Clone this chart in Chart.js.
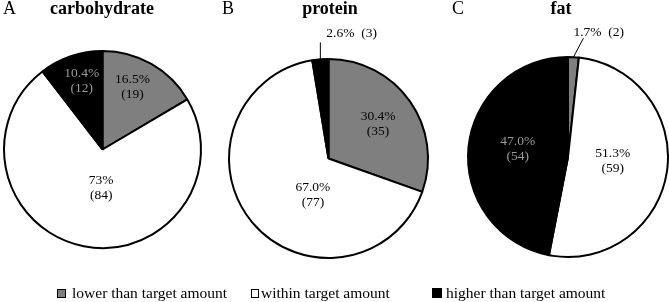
<!DOCTYPE html>
<html>
<head>
<meta charset="utf-8">
<script src="https://cdn.jsdelivr.net/npm/chart.js@4.4.0/dist/chart.umd.min.js"></script>
<style>
  body {
    margin: 0;
    width: 669px;
    height: 302px;
    position: relative;
    overflow: hidden;
    background: #fff;
    font-family: "Liberation Serif", "Times New Roman", serif;
    color: #000;
  }
  canvas { position: absolute; left: 0; top: 0; }
  .tag, .title { position: absolute; top: -1px; font-size: 18px; line-height: 18px; white-space: nowrap; }
  .title { font-weight: bold; transform: translateX(-50%); }
  .key { position: absolute; top: 285px; font-size: 15.5px; line-height: 16px; white-space: nowrap; }
  .box { position: absolute; box-sizing: border-box; border: 1px solid #000; }
</style>
</head>
<body>
<canvas id="pieA" width="669" height="302"></canvas>
<canvas id="pieB" width="669" height="302"></canvas>
<canvas id="pieC" width="669" height="302"></canvas>

<div class="tag" style="left:3px">A</div>
<div class="title" id="titleA" style="left:102px"></div>
<div class="tag" style="left:222px">B</div>
<div class="title" id="titleB" style="left:330px"></div>
<div class="tag" style="left:452px">C</div>
<div class="title" id="titleC" style="left:561px"></div>

<div class="box" style="left:57px;top:289px;width:9px;height:9px;background:#7f7f7f"></div>
<div class="key" id="key0" style="left:72px"></div>
<div class="box" style="left:251px;top:289px;width:8px;height:9px;background:#fff"></div>
<div class="key" id="key1" style="left:261px"></div>
<div class="box" style="left:432px;top:288px;width:10px;height:10px;background:#000"></div>
<div class="key" id="key2" style="left:446px"></div>

<script>
// categories (legend order = slice order, clockwise from 12 o'clock)
const categories = ["lower than target amount", "within target amount", "higher than target amount"];
const panelNames = ["carbohydrate", "protein", "fat"];

// number of subjects per category, and the printed percentages
const carbCounts = [19, 84, 12];
const carbPct = ["16.5%", "73%", "10.4%"];
const proteinCounts = [35, 77, 3];
const proteinPct = ["30.4%", "67.0%", "2.6%"];
const fatCounts = [2, 59, 54];
const fatPct = ["1.7%", "51.3%", "47.0%"];

const sliceColors = ["#7f7f7f", "#ffffff", "#000000"];
const textColors = ["#000000", "#000000", "#9a9a9a"];

document.getElementById("titleA").textContent = panelNames[0];
document.getElementById("titleB").textContent = panelNames[1];
document.getElementById("titleC").textContent = panelNames[2];
categories.forEach((c, i) => { document.getElementById("key" + i).textContent = c; });

// draws "pct / (n)" inside a slice, or outside with a leader line for thin slices
const sliceLabels = {
  id: "sliceLabels",
  afterDatasetsDraw(chart, args, opts) {
    const ctx = chart.ctx;
    const arcs = chart.getDatasetMeta(0).data;
    const counts = chart.data.datasets[0].data;
    ctx.save();
    ctx.font = "13.5px 'Liberation Serif', serif";
    ctx.textBaseline = "middle";
    arcs.forEach((arc, i) => {
      const p = opts.place[i];
      const mid = (arc.startAngle + arc.endAngle) / 2;
      if (p.out) {
        const ex = arc.x + Math.cos(mid) * arc.outerRadius;
        const ey = arc.y + Math.sin(mid) * arc.outerRadius;
        ctx.strokeStyle = "#000";
        ctx.lineWidth = 1;
        ctx.beginPath();
        ctx.moveTo(ex, ey);
        ctx.lineTo(ex + p.line[0], ey + p.line[1]);
        ctx.stroke();
        ctx.fillStyle = "#000";
        ctx.textAlign = "left";
        ctx.fillText(opts.pct[i] + "  (" + counts[i] + ")", ex + p.text[0], ey + p.text[1]);
      } else {
        const a = mid + p.turn * Math.PI / 180;
        const r = arc.outerRadius * p.frac;
        const x = arc.x + Math.cos(a) * r;
        const y = arc.y + Math.sin(a) * r;
        ctx.fillStyle = textColors[i];
        ctx.textAlign = "center";
        ctx.fillText(opts.pct[i], x, y - 7.5);
        ctx.fillText("(" + counts[i] + ")", x, y + 7.5);
      }
    });
    ctx.restore();
  }
};

function makePie(id, counts, pct, padding, place) {
  return new Chart(document.getElementById(id), {
    type: "pie",
    plugins: [sliceLabels],
    data: {
      labels: categories,
      datasets: [{
        data: counts,
        backgroundColor: sliceColors,
        borderColor: "#000",
        borderWidth: 2
      }]
    },
    options: {
      responsive: false,
      animation: false,
      devicePixelRatio: 1,
      layout: { padding: padding },
      events: [],
      plugins: {
        legend: { display: false },
        tooltip: { enabled: false },
        sliceLabels: { pct: pct, place: place }
      }
    }
  });
}

makePie("pieA", carbCounts, carbPct,
  { left: 3, top: 50, right: 467, bottom: 53 },
  [{ frac: 0.70, turn: -4 }, { frac: 0.39, turn: -9 }, { frac: 0.73, turn: 2 }]);

makePie("pieB", proteinCounts, proteinPct,
  { left: 228, top: 58, right: 240, bottom: 43 },
  [{ frac: 0.61, turn: 0 }, { frac: 0.40, turn: -27 }, { out: true, line: [0, -17], text: [6, -26] }]);

makePie("pieC", fatCounts, fatPct,
  { left: 467, top: 56, right: 0, bottom: 44 },
  [{ out: true, line: [10, -19], text: [0, -25] }, { frac: 0.45, turn: -3 }, { frac: 0.51, turn: 4 }]);
</script>
</body>
</html>
